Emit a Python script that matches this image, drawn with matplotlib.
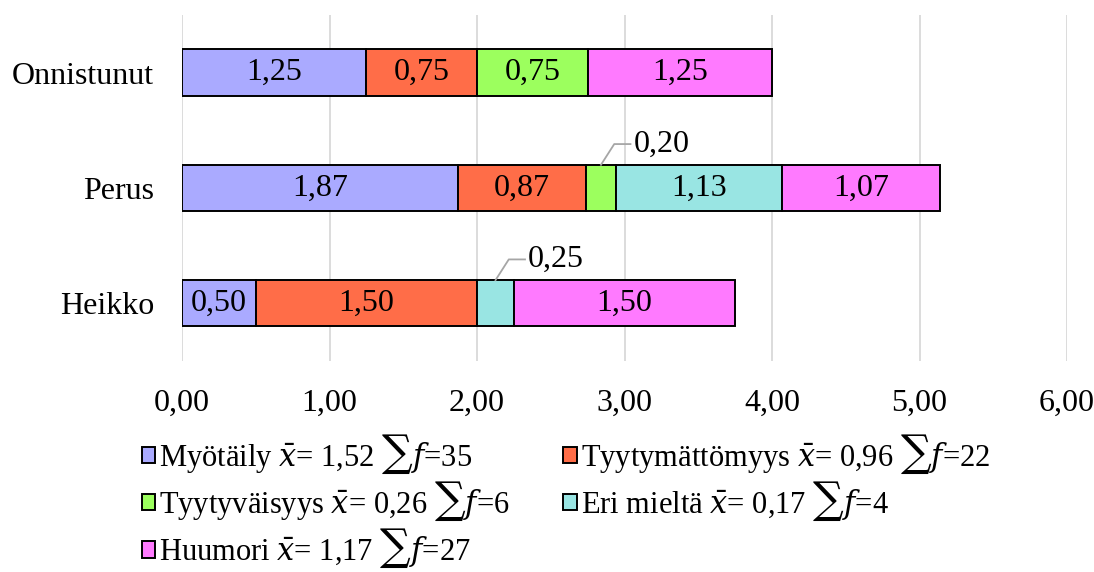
import matplotlib.pyplot as plt

categories = ["Onnistunut", "Perus", "Heikko"]
series = ["Myötäily", "Tyytymättömyys", "Tyytyväisyys", "Eri mieltä", "Huumori"]
values = [
    [1.25, 1.87, 0.50],   # Myötäily
    [0.75, 0.87, 1.50],   # Tyytymättömyys
    [0.75, 0.20, 0.00],   # Tyytyväisyys
    [0.00, 1.13, 0.25],   # Eri mieltä
    [1.25, 1.07, 1.50],   # Huumori
]
means = ["1,52", "0,96", "0,26", "0,17", "1,17"]
counts = [35, 22, 6, 4, 27]
colors = ["#aaaaff", "#ff6d48", "#9cff5e", "#99e5e3", "#ff7aff"]
xticks = [0, 1, 2, 3, 4, 5, 6]

plt.rcParams["font.family"] = ["Liberation Serif", "DejaVu Serif"]
plt.rcParams["mathtext.fontset"] = "dejavuserif"
FS = 23


def fmt(v):
    return f"{v:.2f}".replace(".", ",")


fig = plt.figure(figsize=(10.94, 5.72), dpi=100)
ax = fig.add_axes([0.1664, 0.369, 0.809, 0.605])

ypos = [2, 1, 0]
lefts = [0.0, 0.0, 0.0]
handles = []
for name, vals, col in zip(series, values, colors):
    bars = ax.barh(ypos, vals, left=lefts, height=0.4, color=col,
                   edgecolor="black", linewidth=1.4, zorder=3)
    handles.append(bars)
    for y, v, l in zip(ypos, vals, lefts):
        if v >= 0.4:
            ax.text(l + v / 2, y, fmt(v), ha="center", va="center",
                    fontsize=FS, zorder=4)
        elif v > 0:
            # small segment: label above with a leader line
            x0 = l + v / 2
            ax.plot([x0, x0 + 0.09, x0 + 0.2], [y + 0.2, y + 0.38, y + 0.38],
                    color="#a6a6a6", linewidth=1.3, zorder=4)
            ax.text(x0 + 0.22, y + 0.38, fmt(v), ha="left", va="center",
                    fontsize=FS, zorder=4)
    lefts = [l + v for l, v in zip(lefts, vals)]

ax.set_xlim(0, 6)
ax.set_ylim(-0.5, 2.5)
ax.set_xticks(xticks)
ax.set_xticklabels([fmt(t) for t in xticks], fontsize=FS)
ax.set_yticks(ypos)
ax.set_yticklabels(categories, fontsize=FS)
ax.tick_params(length=0)
ax.tick_params(axis="x", pad=20)
ax.tick_params(axis="y", pad=20)
ax.grid(axis="x", color="#d9d9d9", linewidth=1.3, zorder=0)
for s in ax.spines.values():
    s.set_visible(False)

labels = [f"{n} $\\bar{{x}}$= {m} \u2211$f$={c}"
          for n, m, c in zip(series, means, counts)]
order = [0, 2, 4, 1, 3]
fig.legend([handles[i] for i in order], [labels[i] for i in order],
           ncol=2, loc="upper left", bbox_to_anchor=(0.11, 0.281),
           frameon=False, fontsize=22, handlelength=0.45, handleheight=0.45,
           handletextpad=0.12, columnspacing=1.75, labelspacing=0.14,
           borderpad=0.2)

fig.savefig("out.png", dpi=100)
